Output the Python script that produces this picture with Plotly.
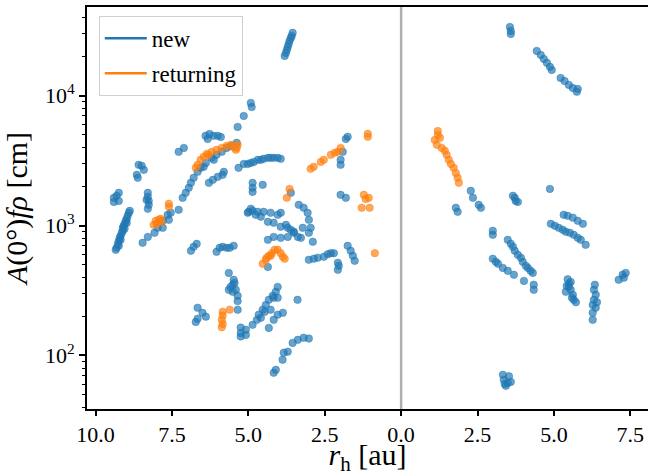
import plotly.graph_objects as go

# ---- data: "new" comets, pre-perihelion (rh shown as negative) ----
new_pre_rh = [
    -9.31, -9.27, -9.24, -9.21, -9.18, -9.14, -9.11, -9.11, -9.08, -9.05, -9.01, -8.98, -8.95, -8.91, -8.88,
    -9.24, -9.18, -9.05, -8.98, -9.34,
    -9.40, -9.40, -9.24, -9.24, -9.31,
    -8.59, -8.49, -8.42, -8.65, -8.62,
    -8.29, -8.29, -8.26, -8.26, -8.29, -8.33,
    -8.46, -8.29, -8.07, -7.97, -7.80, -7.80, -7.64, -7.54, -7.60,
    -7.28, -7.15, -7.05, -6.95, -6.88, -6.79, -6.66, -6.56, -6.39, -6.20, -6.04, -5.87, -5.71, -5.55, -5.38, -6.46, -6.13,
    -6.29, -6.16, -6.00, -5.84, -5.80, -5.32,
    -6.40, -6.27, -6.14, -6.00, -5.90, -6.33,
    -5.35, -5.15, -4.92, -4.89,
    -7.28, -7.11,
    -5.15, -4.92, -4.69, -4.50, -4.27, -4.04, -3.94, -5.02, -4.82, -4.59, -4.36, -4.17,
    -4.86, -4.86, -4.86, -4.53,
    -6.88, -6.79, -6.69, -6.04, -5.94, -5.84, -5.71, -5.61, -5.48,
    -5.64, -5.48, -5.51, -5.64, -5.41, -5.35, -5.35, -5.51, -5.58, -5.45, -5.35,
    -6.66, -6.50, -6.39, -6.72, -6.66,
    -5.25, -5.25, -5.25, -5.08, -5.08,
    -4.86, -4.72, -4.66, -4.53, -4.43, -4.33, -4.20, -4.10, -4.04, -4.17, -4.04, -4.27, -4.33, -4.17, -4.04, -3.87, -4.59, -4.46,
    -3.39,
    -4.17, -4.10, -3.88, -3.84, -3.71, -3.55, -3.38, -3.19, -3.02,
    -4.99, -5.02, -4.86, -4.69, -4.50, -4.27, -4.04, -3.94, -4.36, -4.17, -3.94, -3.71, -3.51, -3.38, -3.28, -3.77, -3.61, -4.76, -4.59, -4.92,
    -3.35, -3.19, -3.06, -3.02, -2.96, -3.02, -3.22, -2.89,
    -4.36, -4.17, -3.94, -3.71, -3.51,
    -2.30, -2.07, -2.07, -2.04, -1.75, -1.65, -1.58, -1.52, -3.02, -2.86, -2.73, -2.53, -2.40, -2.20,
    -4.36,
    -1.81, -1.75, -1.91, -1.98, -1.98, -1.98, -1.81, -3.61,
    -3.81, -3.77, -3.74, -3.71, -3.68, -3.65, -3.61, -3.58, -3.55,
]
new_pre_afrho = [
    674, 723, 762, 804, 833, 879, 911, 960, 994, 1030, 1087, 1126, 1188, 1253, 1298,
    698, 776, 944, 1048, 650,
    1633, 1521, 1785, 1548, 1693,
    2931, 2880, 2683, 2455, 2330,
    1785, 1663, 1548, 1443, 1345, 1576,
    736, 818, 879, 960, 1087, 960, 1209, 1253, 1106,
    1321, 1633, 1785, 1950, 2130, 2330, 2590, 2780, 3036, 3318, 3499, 3690, 3960, 4100, 4330, 2830, 3202,
    2130, 2247, 2370, 2455, 2590, 2780,
    4900, 5075, 4900, 4900, 4800, 4640,
    5744, 6975, 8790, 8170,
    3690, 3960,
    2980, 3036, 3202, 3260, 3318, 3318, 3260, 2980, 3090, 3202, 3318, 3318,
    2130, 1950, 1815, 2056,
    639, 686, 723, 628, 674, 686, 674, 674, 698,
    432, 382, 350, 320, 320, 288, 262, 309, 337, 362, 225,
    233, 213, 199, 181, 192,
    164, 149, 140, 158, 144,
    172, 188, 206, 225, 245, 268, 288, 309, 337, 278, 278, 225, 163, 188, 206, 213, 195, 217,
    268,
    73.6, 77.6, 92.7, 105, 107, 125, 132, 137, 135,
    1275, 1253, 1298, 1275, 1275, 1253, 1209, 1253, 1068, 1050, 978, 960, 896, 818, 804, 1012, 927, 1209, 1170, 1345,
    1443, 1370, 1253, 1106, 960, 879, 960, 750,
    776, 818, 804, 818, 879,
    613, 517, 456, 490, 698, 639, 585, 535, 545, 555, 565, 575, 602, 613,
    480,
    4640, 4820, 3690, 3202, 2931, 1723, 1633, 1785,
    20200, 21300, 22460, 23700, 25000, 26400, 27800, 28800, 30400,
]

# ---- data: "new" comets, post-perihelion ----
new_post_rh = [
    3.56, 3.59, 3.59,
    4.44, 4.57, 4.67, 4.77, 4.87, 4.93,
    5.22, 5.35, 5.49, 5.62, 5.75, 5.78,
    2.28, 2.35, 2.54, 2.61, 1.79, 1.85,
    3.66, 3.72, 3.75, 3.82,
    4.87,
    5.32, 5.45, 5.62, 5.78, 5.95,
    4.90, 5.03, 5.16, 5.29, 5.39, 5.52, 5.65, 5.78, 5.88, 6.04,
    3.00, 3.00,
    3.49, 3.59, 3.66, 3.72, 3.82, 3.92, 3.98, 4.08, 4.15, 4.24, 4.31,
    3.00, 3.10, 3.17, 3.33, 3.49, 3.69,
    4.02, 4.34, 4.34,
    5.45, 5.49, 5.49, 5.55, 5.62, 5.65, 5.72, 5.39, 5.42, 5.55, 5.59,
    6.31, 6.37, 6.31, 6.27, 6.37, 6.27, 6.27, 6.34, 6.41,
    7.12, 7.25, 7.35, 7.29,
    3.33, 3.36, 3.49, 3.59, 3.43, 3.53, 3.39,
]
new_post_afrho = [
    33770, 31450, 29800,
    22070, 20560, 19170, 17870, 16660, 15760,
    13670, 12980, 12090, 11450, 10700, 11260,
    1850, 1633, 1443, 1370, 1370, 1275,
    1693, 1633, 1548, 1520,
    1915,
    1209, 1188, 1150, 1087, 1030,
    1030, 995, 960, 927, 896, 879, 848, 804, 776, 710,
    911, 848,
    776, 723, 686, 639, 595, 565, 526, 490, 472, 448, 432,
    555, 526, 508, 472, 448, 418,
    375, 350, 320,
    386, 357, 337, 320, 293, 268, 257, 309, 343, 368, 278,
    320, 293, 268, 245, 233, 213, 188, 350, 257,
    382, 418, 432, 397,
    71.0, 65.0, 61.5, 62.6, 58.4, 69.2, 60.4,
]

# ---- data: "returning" comets, pre-perihelion ----
ret_pre_rh = [
    -8.10, -8.03, -7.93, -7.87, -7.84, -8.00,
    -7.60, -7.60,
    -6.72, -6.66, -6.56, -6.46, -6.36, -6.20, -6.04, -5.87, -5.71, -5.57, -5.48, -5.41, -5.35, -5.38, -6.30,
    -3.65, -3.74,
    -2.96, -2.86, -2.63, -2.53, -2.30, -2.17, -2.07, -1.98,
    -1.09, -1.09,
    -1.22, -1.16, -1.06, -1.29, -1.03,
    -4.53, -4.43, -4.33, -4.23, -4.14, -4.04, -3.94, -3.87, -3.81, -4.40, -4.27,
    -0.86,
    -5.61, -5.84, -5.84, -5.87, -5.84, -5.87,
]
ret_pre_afrho = [
    1012, 1087, 1106, 1126, 1068, 1030,
    1470, 1393,
    2780, 2931, 3202, 3380, 3560, 3690, 3823, 3960, 4100, 4177, 4030, 3823, 4177, 3960, 3499,
    1915, 1633,
    2730, 2830, 3090, 3202, 3499, 3630, 3690, 3960,
    5080, 4820,
    1723, 1600, 1633, 1370, 1370,
    508, 545, 585, 613, 650, 650, 613, 575, 555, 565, 585,
    613,
    225, 217, 203, 188, 175, 165,
]

# ---- data: "returning" comets, post-perihelion ----
ret_post_rh = [1.20, 1.20, 1.10, 1.17, 1.33, 1.43, 1.49, 1.56, 1.63, 1.72, 1.79, 1.85, 1.89, 1.27]
ret_post_afrho = [5340, 4986, 4560, 4177, 3960, 3760, 3499, 3202, 2980, 2780, 2540, 2330, 2130, 4730]

x_tickvals = [-10.0, -7.5, -5.0, -2.5, 0.0, 2.5, 5.0, 7.5]
x_ticktext = ["10.0", "7.5", "5.0", "2.5", "0.0", "2.5", "5.0", "7.5"]
y_tickvals = [100, 1000, 10000]
y_ticktext = ["10<sup>2</sup>", "10<sup>3</sup>", "10<sup>4</sup>"]

BLUE = "#1f77b4"
ORANGE = "#ff7f0e"
FONT = "Liberation Serif, Times New Roman, DejaVu Serif, serif"


def marker(rgb):
    return dict(size=7.5, color=f"rgba({rgb},0.68)", line=dict(color=f"rgba({rgb},0.45)", width=1))


fig = go.Figure()
fig.add_trace(go.Scatter(x=new_pre_rh + new_post_rh, y=new_pre_afrho + new_post_afrho,
                         mode="markers", marker=marker("31,119,180"), showlegend=False))
fig.add_trace(go.Scatter(x=ret_pre_rh + ret_post_rh, y=ret_pre_afrho + ret_post_afrho,
                         mode="markers", marker=marker("255,127,14"), showlegend=False))
# legend entries drawn as lines
fig.add_trace(go.Scatter(x=[None], y=[None], mode="lines", name="new",
                         line=dict(color=BLUE, width=2.5), legendgroup="a"))
fig.add_trace(go.Scatter(x=[None], y=[None], mode="lines", name="returning",
                         line=dict(color=ORANGE, width=2.5), legendgroup="b"))

fig.add_vline(x=0, line_color="#b0b0b0", line_width=2.5, layer="below")

minor_vals = [m * 10 ** e for e in (1, 2, 3, 4) for m in range(2, 10)]

tick_font = dict(family=FONT, size=22, color="black")
title_font = dict(family=FONT, size=30, color="black")

fig.update_layout(
    width=648, height=476,
    margin=dict(l=87, r=0, t=7, b=67),
    paper_bgcolor="white", plot_bgcolor="white",
    font=dict(family=FONT, size=22, color="black"),
    showlegend=True,
    legend=dict(x=0.021, y=0.978, xanchor="left", yanchor="top",
                bgcolor="rgba(255,255,255,0.85)", bordercolor="#d0d0d0", borderwidth=1,
                font=dict(family=FONT, size=23, color="black"), tracegroupgap=2, itemwidth=42,
                traceorder="grouped"),
    xaxis=dict(range=[-10.28, 8.08], tickvals=x_tickvals, ticktext=x_ticktext, tickfont=tick_font,
               ticks="outside", ticklen=5, tickwidth=1.5, tickcolor="black",
               showline=True, linecolor="black", linewidth=2, mirror=True,
               showgrid=False, zeroline=False,
               title=dict(text="<i>r</i><sub>h</sub> [au]", font=title_font, standoff=8)),
    yaxis=dict(type="log", range=[1.588, 4.682], tickvals=y_tickvals, ticktext=y_ticktext, tickfont=tick_font,
               ticks="outside", ticklen=6, tickwidth=1.5, tickcolor="black",
               showline=True, linecolor="black", linewidth=2, mirror=False,
               showgrid=False, zeroline=False,
               minor=dict(tickvals=minor_vals, ticks="outside", ticklen=3.5, tickwidth=1, tickcolor="black"),
               title=dict(text="<i>A</i>(0°)<i>fρ</i> [cm]", font=title_font, standoff=8)),
)

fig.write_html("out.html")
